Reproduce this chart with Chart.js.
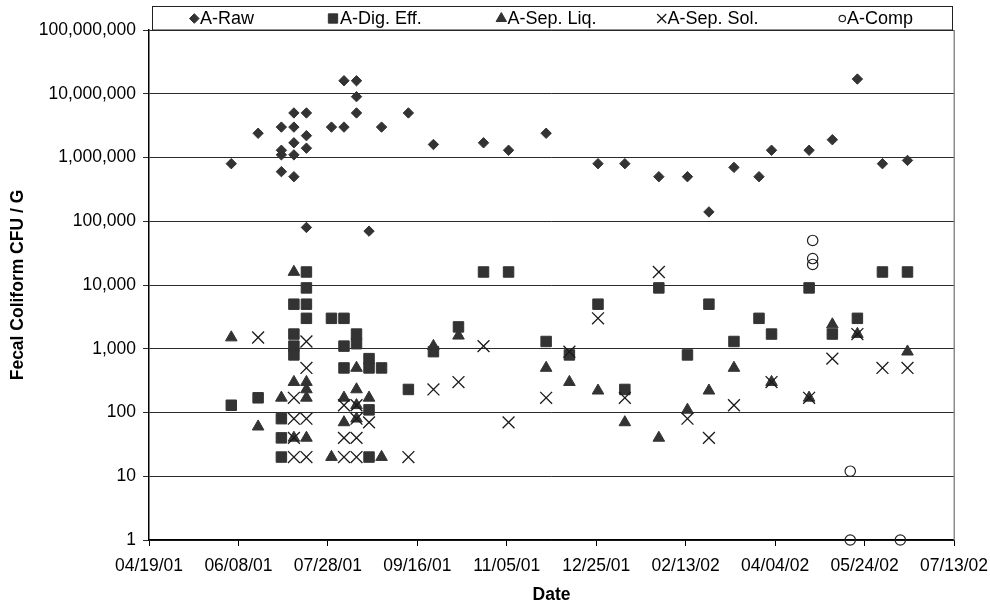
<!DOCTYPE html>
<html>
<head>
<meta charset="utf-8">
<script src="https://cdn.jsdelivr.net/npm/chart.js@4.4.1/dist/chart.umd.min.js"></script>
<style>
  html, body { margin: 0; padding: 0; background: #fff; }
  #wrap { width: 990px; height: 606px; }
</style>
</head>
<body>
<div id="wrap"><canvas id="c" width="990" height="606"></canvas></div>
<script>
// ---------- DATA ----------
const seriesNames = ['A-Raw', 'A-Dig. Eff.', 'A-Sep. Liq.', 'A-Sep. Sol.', 'A-Comp'];

const xTickLabels = ['04/19/01','06/08/01','07/28/01','09/16/01','11/05/01','12/25/01','02/13/02','04/04/02','05/24/02','07/13/02'];
const yTickValues = [1, 10, 100, 1000, 10000, 100000, 1000000, 10000000, 100000000];

const rawDates = ['2001-06-04','2001-06-19',
  '2001-07-02','2001-07-02','2001-07-02','2001-07-02',
  '2001-07-09','2001-07-09','2001-07-09','2001-07-09','2001-07-09',
  '2001-07-16','2001-07-16','2001-07-16','2001-07-16',
  '2001-07-30','2001-08-06','2001-08-06',
  '2001-08-13','2001-08-13','2001-08-13',
  '2001-08-20','2001-08-27','2001-09-11','2001-09-25','2001-10-23','2001-11-06','2001-11-27',
  '2001-12-26','2002-01-10','2002-01-29','2002-02-14','2002-02-26','2002-03-12','2002-03-26',
  '2002-04-02','2002-04-23','2002-05-06','2002-05-20','2002-06-03','2002-06-17'];
const rawValues = [800000, 2400000,
  3000000, 1300000, 1100000, 600000,
  5000000, 3000000, 1700000, 1100000, 500000,
  5000000, 2200000, 1400000, 80000,
  3000000, 16000000, 3000000,
  16000000, 9000000, 5000000,
  70000, 3000000, 5000000, 1600000, 1700000, 1300000, 2400000,
  800000, 800000, 500000, 500000, 140000, 700000, 500000,
  1300000, 1300000, 1900000, 17000000, 800000, 900000];

const digDates = ['2001-06-04','2001-06-19',
  '2001-07-02','2001-07-02','2001-07-02',
  '2001-07-09','2001-07-09','2001-07-09','2001-07-09',
  '2001-07-16','2001-07-16','2001-07-16','2001-07-16',
  '2001-07-30',
  '2001-08-06','2001-08-06','2001-08-06',
  '2001-08-13','2001-08-13',
  '2001-08-20','2001-08-20','2001-08-20','2001-08-20',
  '2001-08-27',
  '2001-09-11','2001-09-25','2001-10-09','2001-10-23','2001-11-06','2001-11-27','2001-12-10',
  '2001-12-26','2002-01-10','2002-01-29','2002-02-14','2002-02-26','2002-03-12','2002-03-26',
  '2002-04-02','2002-04-23','2002-05-06','2002-05-20','2002-06-03','2002-06-17'];
const digValues = [130, 170,
  80, 40, 20,
  5000, 1700, 1100, 800,
  16000, 9000, 5000, 3000,
  3000,
  3000, 1100, 500,
  1700, 1200,
  700, 500, 110, 20,
  500,
  230, 900, 2200, 16000, 16000, 1300, 800,
  5000, 230, 9000, 800, 5000, 1300, 3000,
  1700, 9000, 1700, 3000, 16000, 16000];

const liqDates = ['2001-06-04','2001-06-19','2001-07-02',
  '2001-07-09','2001-07-09','2001-07-09',
  '2001-07-16','2001-07-16','2001-07-16','2001-07-16',
  '2001-07-30',
  '2001-08-06','2001-08-06',
  '2001-08-13','2001-08-13','2001-08-13','2001-08-13',
  '2001-08-20','2001-08-27',
  '2001-09-25','2001-10-09','2001-11-27','2001-12-10','2001-12-26','2002-01-10','2002-01-29',
  '2002-02-14','2002-02-26','2002-03-12','2002-04-02','2002-04-23','2002-05-06','2002-05-20','2002-06-17'];
const liqValues = [1500, 60, 170,
  16000, 300, 40,
  300, 230, 170, 40,
  20,
  170, 70,
  500, 230, 130, 80,
  170, 20,
  1100, 1600, 500, 300, 220, 70, 40,
  110, 220, 500, 300, 170, 2400, 1700, 900];

const solDates = ['2001-06-19',
  '2001-07-09','2001-07-09','2001-07-09','2001-07-09',
  '2001-07-16','2001-07-16','2001-07-16','2001-07-16',
  '2001-08-06','2001-08-06','2001-08-06',
  '2001-08-13','2001-08-13','2001-08-13','2001-08-13',
  '2001-08-20','2001-09-11','2001-09-25','2001-10-09','2001-10-23','2001-11-06','2001-11-27',
  '2001-12-10','2001-12-26','2002-01-10','2002-01-29','2002-02-14','2002-02-26','2002-03-12',
  '2002-04-02','2002-04-23','2002-05-06','2002-05-20','2002-06-03','2002-06-17'];
const solValues = [1500,
  170, 80, 40, 20,
  1300, 500, 80, 20,
  130, 40, 20,
  130, 80, 40, 20,
  70, 20, 230, 300, 1100, 70, 170,
  900, 3000, 170, 16000, 80, 40, 130,
  300, 170, 700, 1700, 500, 500];

const compDates = ['2002-04-25','2002-04-25','2002-04-25','2002-05-16','2002-05-16','2002-06-13'];
const compValues = [50000, 26000, 21000, 12, 1, 1];

// ---------- HELPERS ----------
const BASE = Date.UTC(2001, 3, 19);
function isoToDay(s) {
  const [y, m, d] = s.split('-').map(Number);
  return Math.round((Date.UTC(y, m - 1, d) - BASE) / 86400000);
}
function labelToDay(s) {
  const [m, d, y] = s.split('/').map(Number);
  return Math.round((Date.UTC(2000 + y, m - 1, d) - BASE) / 86400000);
}
function pts(dates, values) {
  return dates.map((d, i) => ({ x: isoToDay(d), y: values[i] }));
}
const xTickDays = xTickLabels.map(labelToDay);

const FONT = "'Liberation Sans', Arial, Helvetica, sans-serif";
const INK = '#333333';

const styles = [
  { pointStyle: 'rectRot',  radius: 5.2, bg: INK, border: INK, bw: 1, legendR: 4.8 },
  { pointStyle: 'rect',     radius: 7.4, bg: INK, border: INK, bw: 1, legendR: 6.6 },
  { pointStyle: 'triangle', radius: 6.7, bg: INK, border: INK, bw: 1, legendR: 6.0 },
  { pointStyle: 'crossRot', radius: 8.4, bg: INK, border: '#1a1a1a', bw: 1.3, legendR: 6.4 },
  { pointStyle: 'circle',   radius: 5.2, bg: 'rgba(0,0,0,0)', border: '#222', bw: 1.2, legendR: 3.2 }
];
const seriesData = [
  pts(rawDates, rawValues),
  pts(digDates, digValues),
  pts(liqDates, liqValues),
  pts(solDates, solValues),
  pts(compDates, compValues)
];

const datasets = seriesNames.map((name, i) => ({
  label: name,
  data: seriesData[i],
  pointStyle: styles[i].pointStyle,
  pointRadius: styles[i].radius,
  pointHoverRadius: styles[i].radius,
  pointBackgroundColor: styles[i].bg,
  pointBorderColor: styles[i].border,
  pointBorderWidth: styles[i].bw,
  showLine: false,
  clip: false,
  order: seriesNames.length - i
}));

// Legend box and plot-area frame
const framePlugin = {
  id: 'frame',
  beforeDatasetsDraw(chart) {
    const { ctx, chartArea: a } = chart;
    ctx.save();
    ctx.strokeStyle = '#8c8c8c';
    ctx.lineWidth = 1.5;
    ctx.beginPath();
    ctx.moveTo(Math.round(a.right) + 0.25, a.top);
    ctx.lineTo(Math.round(a.right) + 0.25, a.bottom);
    ctx.stroke();
    ctx.restore();
  },
  afterDraw(chart) {
    const ctx = chart.ctx;
    ctx.save();
    ctx.fillStyle = '#ffffff';
    ctx.fillRect(152, 6, 801, 24);
    ctx.strokeStyle = '#222';
    ctx.lineWidth = 1;
    ctx.strokeRect(152.5, 6.5, 800, 23.5);
    const markerX = [194.3, 333, 501.3, 661.7, 842.3];
    const textX = [200, 340, 507.5, 667.5, 847];
    const cy = 18.5;
    ctx.font = '18px ' + FONT;
    ctx.textBaseline = 'middle';
    ctx.textAlign = 'left';
    chart.data.datasets.forEach((ds, i) => {
      const st = styles[i];
      ctx.fillStyle = st.bg;
      ctx.strokeStyle = st.border;
      ctx.lineWidth = st.bw;
      Chart.helpers.drawPoint(ctx, {
        pointStyle: st.pointStyle, radius: st.legendR, borderWidth: st.bw, rotation: 0
      }, markerX[i], cy);
      ctx.fillStyle = '#000';
      ctx.fillText(ds.label, textX[i], cy + 0.5);
    });
    ctx.restore();
  }
};

new Chart(document.getElementById('c').getContext('2d'), {
  type: 'scatter',
  data: { datasets },
  plugins: [framePlugin],
  options: {
    responsive: false,
    animation: false,
    devicePixelRatio: 1,
    layout: { padding: { left: 0, right: 36, top: 30, bottom: 0 } },
    plugins: {
      legend: { display: false },
      tooltip: { enabled: false }
    },
    scales: {
      x: {
        type: 'linear',
        position: 'bottom',
        min: xTickDays[0],
        max: xTickDays[xTickDays.length - 1],
        afterBuildTicks: s => { s.ticks = xTickDays.map(v => ({ value: v })); },
        afterFit: s => { s.height = 66; s.paddingLeft = 0; s.paddingRight = 0; },
        ticks: {
          autoSkip: false, maxRotation: 0, minRotation: 0,
          padding: 10,
          color: '#000',
          font: { family: FONT, size: 17.5 },
          callback: (v, i) => xTickLabels[i]
        },
        grid: { drawOnChartArea: false, drawTicks: true, tickLength: 6, color: '#000', lineWidth: 1 },
        border: { display: true, color: '#000', width: 1.5 },
        title: { display: true, text: 'Date', color: '#000', padding: { top: 0, bottom: 0 },
          font: { family: FONT, size: 17.5, weight: 'bold' } }
      },
      y: {
        type: 'logarithmic',
        min: yTickValues[0],
        max: yTickValues[yTickValues.length - 1],
        afterBuildTicks: s => { s.ticks = yTickValues.map(v => ({ value: v })); },
        afterFit: s => { s.width = 149; s.paddingTop = 0; s.paddingBottom = 0; },
        ticks: {
          autoSkip: false,
          padding: 7,
          color: '#000',
          font: { family: FONT, size: 17.5 },
          callback: v => Number(v).toLocaleString('en-US')
        },
        grid: { color: '#2a2a2a', lineWidth: 1, tickLength: 6, drawTicks: true },
        border: { display: true, color: '#000', width: 1.5 },
        title: { display: true, text: 'Fecal Coliform CFU / G', color: '#000', padding: { top: 8, bottom: 0 },
          font: { family: FONT, size: 17.5, weight: 'bold' } }
      }
    }
  }
});
</script>
</body>
</html>
